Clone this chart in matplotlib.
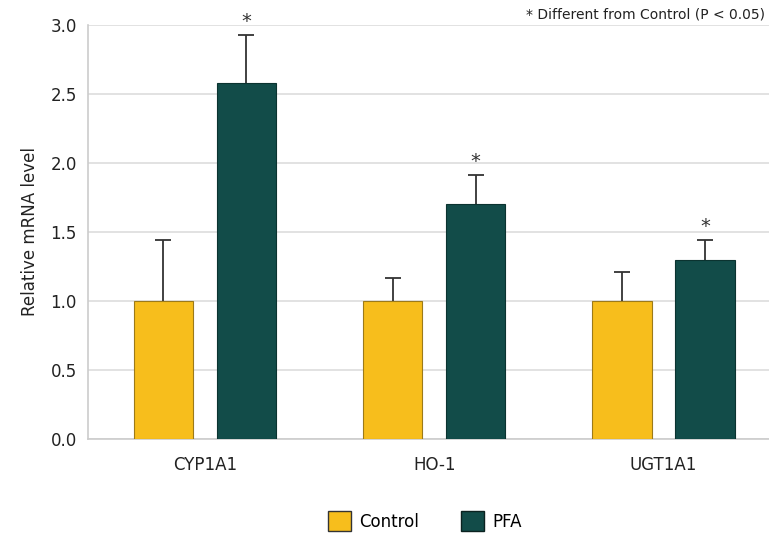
import matplotlib
matplotlib.use("Agg")
import matplotlib.pyplot as plt
import numpy as np
from matplotlib.patches import Patch

plt.rcParams["font.family"] = ["DejaVu Sans"]

genes = ["CYP1A1", "HO-1", "UGT1A1"]
control = [1.0, 1.0, 1.0]
control_err = [0.44, 0.17, 0.21]
pfa = [2.58, 1.70, 1.30]
pfa_err = [0.35, 0.21, 0.14]
yticks = [0.0, 0.5, 1.0, 1.5, 2.0, 2.5, 3.0]

c_ctrl = "#F7BE1C"
c_pfa = "#124C49"

fig = plt.figure(figsize=(7.69, 5.38), dpi=100)
ax = fig.add_axes([88/769, 1-439/538, (769-88)/769, (439-25)/538])

x = np.arange(len(genes))
w = 0.258
off = 0.181
ax.bar(x - off, control, w, color=c_ctrl, edgecolor="#9C7A1A", linewidth=0.8, zorder=3)
ax.bar(x + off, pfa, w, color=c_pfa, edgecolor="#0B3330", linewidth=0.8, zorder=3)
ekw = dict(fmt="none", ecolor="#333333", elinewidth=1.3, capsize=6, capthick=1.3, zorder=2)
ax.errorbar(x - off, control, yerr=control_err, **ekw)
ax.errorbar(x + off, pfa, yerr=pfa_err, **ekw)
for xi, v, e in zip(x, pfa, pfa_err):
    ax.text(xi + off, v + e + 0.03, "*", ha="center", va="bottom", fontsize=14, color="#333333")

ax.set_xlim(-0.51, 2.46)
ax.set_ylim(0, 3.0)
ax.set_yticks(yticks)
ax.set_yticklabels([f"{t:.1f}" for t in yticks], fontsize=12, color="#222222")
ax.set_xticks(x)
ax.set_xticklabels(genes, fontsize=12, color="#222222")
ax.tick_params(axis="x", length=0, pad=12)
ax.tick_params(axis="y", length=0, pad=8)
ax.grid(axis="y", color="#DDDDDD", linewidth=1.2, zorder=0)
ax.set_axisbelow(True)
for s in ["top", "right"]:
    ax.spines[s].set_visible(False)
ax.spines["left"].set_color("#CCCCCC")
ax.spines["bottom"].set_color("#CCCCCC")
ax.spines["left"].set_linewidth(1.2)
ax.spines["bottom"].set_linewidth(1.2)
ax.set_ylabel("Relative mRNA level", fontsize=12, color="#222222", labelpad=8)

fig.text(0.995, 1-14/538, "* Different from Control (P < 0.05)", ha="right", va="center",
         fontsize=10, color="#222222")

handles = [Patch(facecolor=c_ctrl, edgecolor="#333333", label="Control"),
           Patch(facecolor=c_pfa, edgecolor="#0B2220", label="PFA")]
fig.legend(handles=handles, loc="center", bbox_to_anchor=(425/769, 1-521/538), ncol=2,
           frameon=False, fontsize=12, handlelength=1.4, handleheight=1.4,
           columnspacing=2.5, handletextpad=0.5)

fig.savefig("out.png", dpi=100)
